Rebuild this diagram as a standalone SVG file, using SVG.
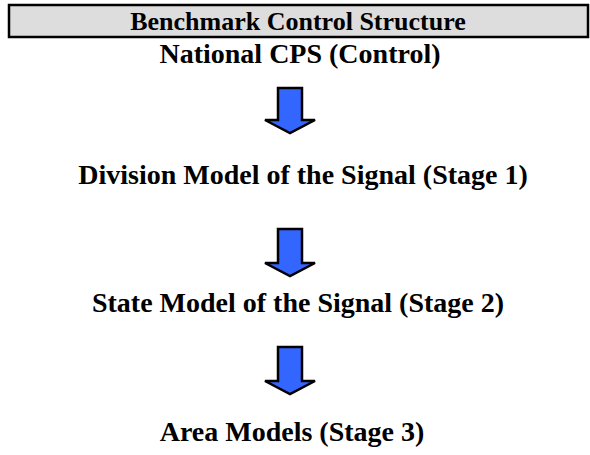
<svg xmlns="http://www.w3.org/2000/svg" width="590" height="455" viewBox="0 0 590 455">
<style>
.t{font-family:"Liberation Serif","Times New Roman",serif;font-weight:bold;font-size:28px;fill:#000;text-anchor:middle}
.h{font-size:26px}
.arr{fill:#3366ff;stroke:#000;stroke-width:2.5;stroke-linejoin:miter}
</style>
<rect width="590" height="455" fill="#fff"/>
<g id="header">
<rect x="9" y="5" width="579" height="32" fill="#dddddd" stroke="#000" stroke-width="2.5"/>
<text class="t h" x="298" y="30">Benchmark Control Structure</text>
</g>
<g id="national"><text class="t" x="300" y="63">National CPS (Control)</text></g>
<g id="division"><text class="t" x="303" y="184">Division Model of the Signal (Stage 1)</text></g>
<g id="state"><text class="t" x="298" y="312">State Model of the Signal (Stage 2)</text></g>
<g id="area"><text class="t" x="292" y="441">Area Models (Stage 3)</text></g>
<g id="connectors">
<path class="arr" d="M278,88 H302 V120 H315 L290,133 L265,120 H278 Z"/>
<path class="arr" d="M278,229 H302 V263 H315 L290,276 L265,263 H278 Z"/>
<path class="arr" d="M278,347 H302 V381 H315 L290,394 L265,381 H278 Z"/>
</g>
</svg>
